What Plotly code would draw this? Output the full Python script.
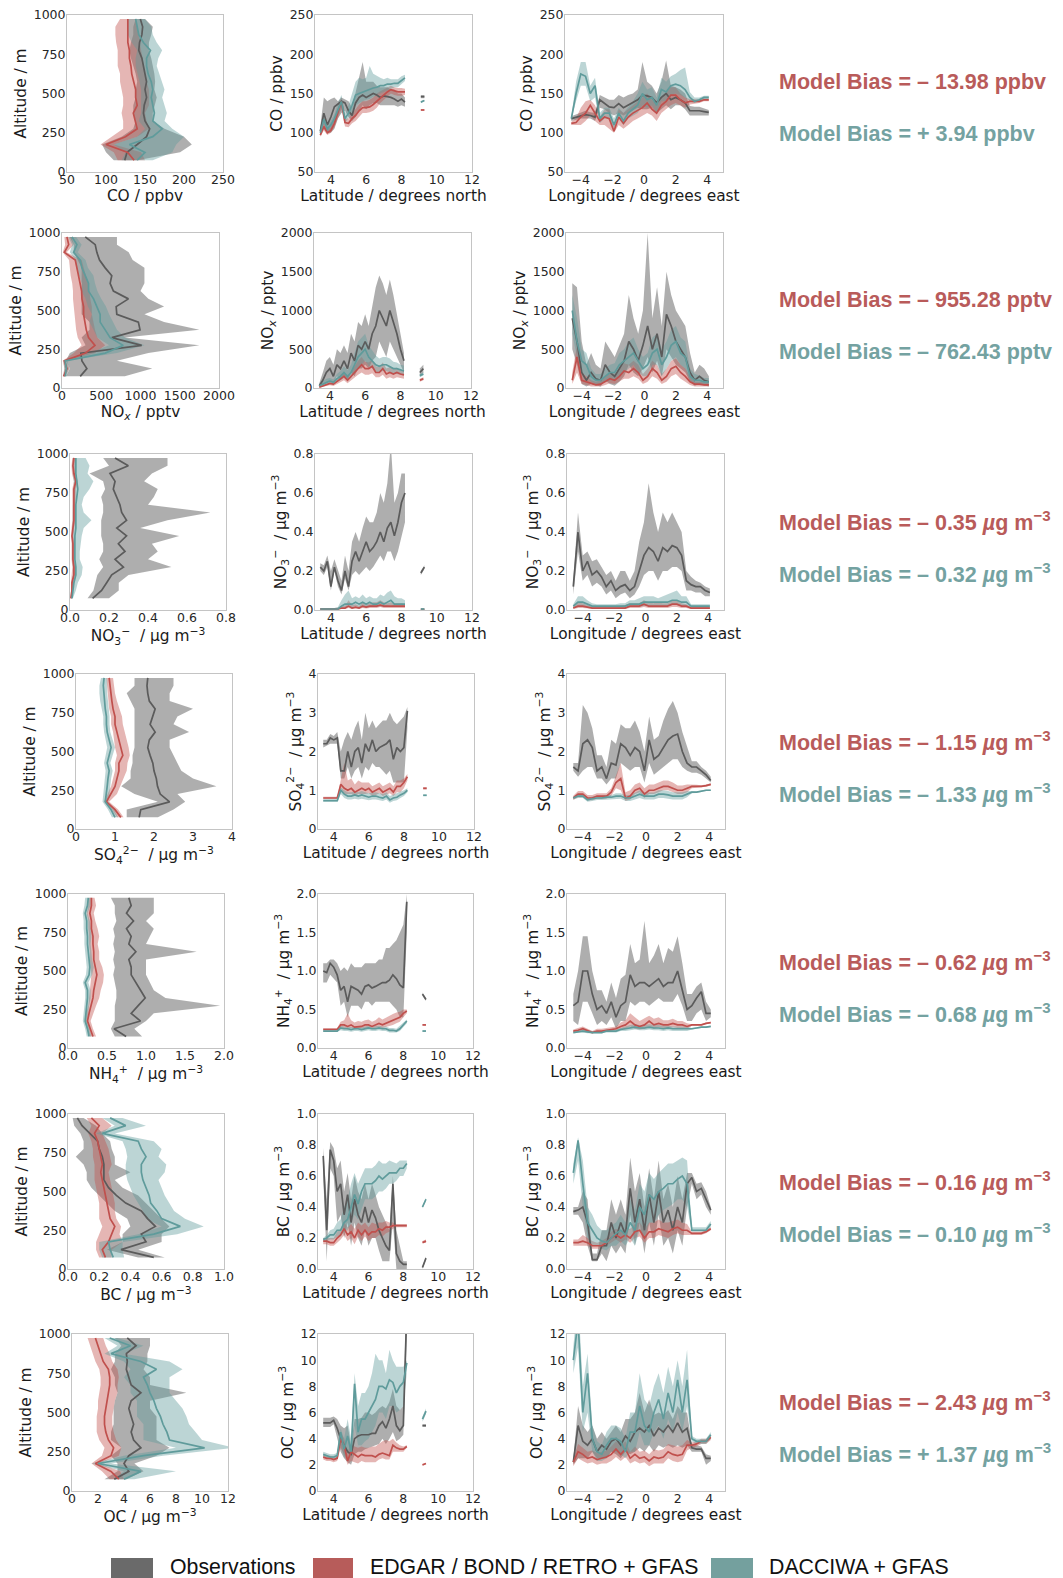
import plotly.graph_objects as go

# ---------------------------------------------------------------- coordinates
ALT = [75, 125, 175, 225, 275, 325, 375, 425, 475, 525, 575, 625, 675, 725, 775, 825, 875, 925, 975]
LAT = [3.4, 3.6, 3.8, 4.0, 4.2, 4.4, 4.6, 4.8, 5.0, 5.2, 5.4, 5.6, 5.8, 6.0, 6.2, 6.4, 6.6, 6.8, 7.0,
       7.2, 7.4, 7.6, 7.8, 8.0, 8.2, 9.1, 9.3]
LON = [-4.6, -4.3, -4.0, -3.7, -3.4, -3.1, -2.8, -2.5, -2.2, -1.9, -1.6, -1.3, -1.0, -0.7, -0.4, -0.1,
       0.2, 0.5, 0.8, 1.1, 1.4, 1.7, 2.0, 2.3, 2.6, 2.9, 3.2, 3.5, 3.8, 4.1]

# each series: [mean, lower edge, upper edge]
# ---------------------------------------------------------------- CO (ppbv)
co_alt_obs = [[124, 127, 140, 152, 156, 150, 148, 149, 152, 150, 152, 150, 148, 146, 142, 143, 146, 147, 144],
              [110, 100, 95, 120, 135, 138, 135, 135, 138, 138, 140, 138, 135, 132, 130, 132, 135, 135, 138],
              [140, 195, 210, 200, 175, 160, 160, 162, 165, 162, 163, 162, 160, 158, 155, 155, 158, 160, 150]]
co_alt_edg = [[136, 128, 100, 125, 140, 137, 135, 140, 138, 138, 135, 133, 132, 130, 130, 128, 128, 128, 128],
              [115, 110, 93, 108, 122, 122, 120, 122, 122, 120, 118, 118, 115, 115, 115, 113, 112, 112, 118],
              [150, 145, 110, 140, 155, 152, 150, 155, 155, 155, 152, 150, 148, 147, 145, 143, 142, 140, 138]]
co_alt_dac = [[140, 150, 130, 160, 172, 160, 162, 160, 158, 160, 158, 154, 152, 152, 157, 148, 142, 140, 138],
              [120, 125, 110, 140, 150, 142, 145, 145, 145, 145, 143, 140, 138, 138, 140, 133, 128, 128, 128],
              [160, 185, 190, 200, 185, 175, 178, 175, 172, 175, 172, 168, 165, 167, 172, 165, 160, 158, 150]]
co_lat_obs = [[102, 125, 110, 120, 133, 136, 140, 138, 128, 122, 138, 145, 148, 145, 148, 150, 148, 145, 147, 146, 145, 143, 140, 143, 139, 146, 146],
              [98, 105, 100, 100, 105, 118, 125, 128, 120, 115, 120, 128, 135, 130, 135, 138, 138, 135, 135, 135, 135, 135, 133, 135, 133, 144, 144],
              [108, 145, 140, 143, 145, 140, 145, 142, 140, 132, 150, 170, 190, 165, 165, 165, 160, 158, 158, 158, 155, 155, 150, 150, 145, 148, 148]]
co_lat_edg = [[97, 108, 100, 103, 112, 125, 140, 113, 112, 118, 122, 128, 132, 132, 133, 136, 140, 145, 148, 152, 155, 153, 152, 152, 152, 129, 129],
              [95, 103, 97, 100, 107, 118, 130, 108, 107, 112, 115, 120, 125, 125, 126, 128, 132, 138, 142, 146, 150, 148, 147, 147, 148, 128, 128],
              [100, 113, 104, 107, 118, 132, 145, 118, 118, 125, 130, 136, 140, 140, 142, 145, 150, 153, 155, 158, 160, 158, 157, 157, 156, 130, 130]]
co_lat_dac = [[100, 117, 105, 110, 118, 130, 140, 118, 125, 135, 148, 150, 152, 154, 155, 157, 158, 160, 160, 162, 162, 163, 163, 167, 170, 139, 141],
              [97, 112, 100, 105, 112, 122, 132, 112, 118, 125, 135, 138, 140, 142, 143, 146, 148, 150, 152, 155, 156, 158, 158, 162, 166, 138, 140],
              [104, 122, 110, 115, 124, 138, 148, 125, 135, 150, 165, 170, 168, 170, 185, 175, 172, 170, 168, 170, 168, 168, 168, 172, 174, 140, 142]]
co_lon_obs = [[118, 120, 122, 123, 122, 120, 142, 138, 133, 132, 137, 132, 135, 138, 142, 148, 147, 145, 138, 145, 150, 142, 145, 142, 138, 128, 128, 128, 127, 126],
              [115, 117, 118, 118, 118, 115, 132, 130, 125, 122, 125, 122, 125, 128, 132, 130, 130, 132, 125, 130, 135, 130, 135, 135, 130, 122, 122, 122, 122, 122],
              [121, 123, 126, 128, 126, 125, 148, 145, 142, 142, 148, 145, 148, 150, 155, 190, 165, 160, 150, 165, 192, 160, 158, 155, 150, 134, 133, 133, 131, 129]]
co_lon_edg = [[112, 113, 120, 125, 135, 125, 115, 120, 118, 102, 120, 112, 120, 125, 128, 132, 138, 130, 125, 135, 140, 148, 148, 142, 138, 140, 140, 140, 142, 142],
              [110, 110, 110, 115, 122, 115, 110, 110, 105, 100, 110, 105, 110, 115, 118, 122, 125, 122, 115, 125, 130, 135, 138, 135, 132, 136, 137, 138, 140, 140],
              [114, 118, 132, 140, 142, 135, 120, 130, 130, 110, 130, 125, 130, 135, 140, 145, 150, 142, 135, 145, 152, 158, 158, 150, 145, 143, 143, 142, 144, 144]]
co_lon_dac = [[118, 150, 175, 172, 150, 160, 118, 125, 125, 110, 125, 115, 125, 130, 135, 150, 142, 145, 135, 155, 152, 160, 162, 160, 155, 145, 140, 142, 145, 145],
              [116, 140, 160, 160, 140, 145, 112, 118, 118, 105, 118, 110, 118, 122, 125, 135, 132, 135, 125, 140, 140, 148, 150, 148, 145, 140, 138, 140, 142, 143],
              [120, 165, 190, 190, 160, 170, 125, 132, 132, 118, 132, 125, 132, 140, 150, 165, 155, 158, 145, 170, 165, 172, 175, 180, 183, 152, 145, 145, 147, 147]]

# ---------------------------------------------------------------- NOx (pptv)
nox_alt_obs = [[232, 317, 254, 240, 1015, 634, 994, 973, 698, 690, 846, 655, 613, 634, 550, 478, 444, 423, 296],
               [50, 100, 50, 100, 300, 250, 350, 350, 250, 250, 250, 250, 250, 250, 250, 200, 150, 150, 100],
               [800, 1150, 700, 1100, 1750, 800, 1750, 1300, 1050, 1300, 1100, 1000, 1050, 1050, 1050, 900, 850, 700, 700]]
nox_alt_edg = [[21, 63, 30, 300, 420, 338, 309, 296, 275, 275, 254, 250, 233, 211, 190, 169, 30, 85, 63],
               [10, 30, 10, 150, 250, 200, 180, 170, 160, 150, 140, 140, 130, 110, 100, 90, 10, 40, 30],
               [40, 100, 50, 420, 550, 450, 420, 400, 380, 380, 360, 350, 330, 300, 280, 250, 60, 150, 120]]
nox_alt_dac = [[40, 55, 40, 550, 780, 613, 550, 486, 486, 444, 402, 338, 338, 296, 254, 232, 148, 190, 127],
               [20, 30, 20, 350, 600, 450, 400, 350, 380, 330, 300, 250, 250, 220, 180, 170, 100, 130, 80],
               [60, 90, 70, 700, 1050, 800, 700, 650, 600, 560, 500, 450, 420, 400, 330, 300, 200, 250, 180]]
nox_lat_obs = [[30, 100, 200, 250, 150, 300, 250, 350, 250, 450, 350, 550, 500, 600, 500, 700, 800, 1000, 900, 800, 1000, 850, 700, 500, 350, 200, 250],
               [10, 40, 80, 100, 50, 150, 100, 150, 100, 200, 150, 250, 250, 300, 250, 350, 400, 600, 500, 400, 600, 500, 400, 300, 200, 150, 200],
               [60, 200, 350, 400, 300, 500, 450, 550, 450, 700, 600, 850, 800, 950, 800, 1050, 1300, 1450, 1350, 1200, 1400, 1200, 1000, 700, 450, 250, 300]]
nox_lat_edg = [[10, 30, 50, 60, 50, 80, 120, 150, 100, 150, 200, 250, 300, 250, 250, 280, 200, 200, 250, 180, 200, 180, 200, 180, 170, 100, 120],
               [5, 15, 30, 35, 25, 50, 80, 100, 60, 100, 130, 170, 200, 170, 170, 190, 140, 140, 170, 120, 140, 120, 140, 130, 120, 80, 100],
               [20, 50, 80, 90, 80, 120, 170, 200, 150, 220, 280, 350, 400, 340, 330, 360, 280, 270, 330, 250, 270, 250, 260, 230, 220, 120, 140]]
nox_lat_dac = [[30, 50, 80, 90, 70, 120, 150, 200, 150, 200, 300, 400, 450, 500, 400, 350, 300, 280, 300, 300, 280, 250, 250, 230, 220, 160, 180],
               [15, 30, 50, 60, 40, 80, 100, 130, 100, 130, 200, 250, 300, 350, 280, 250, 200, 200, 220, 220, 200, 180, 180, 170, 160, 140, 160],
               [50, 80, 120, 130, 110, 180, 220, 280, 230, 300, 450, 600, 650, 700, 550, 480, 420, 380, 400, 400, 380, 340, 330, 300, 290, 180, 200]]
nox_lon_obs = [[900, 600, 200, 100, 200, 120, 100, 300, 200, 150, 250, 350, 600, 500, 350, 550, 800, 500, 700, 400, 950, 800, 600, 500, 400, 200, 100, 150, 100, 80],
               [500, 300, 50, 20, 50, 30, 20, 100, 50, 30, 80, 150, 300, 200, 150, 250, 400, 200, 350, 150, 500, 400, 300, 250, 200, 80, 30, 50, 30, 20],
               [1350, 1300, 600, 300, 450, 300, 250, 600, 500, 400, 550, 700, 1200, 900, 700, 1000, 2000, 900, 1300, 800, 1500, 1200, 1000, 900, 800, 450, 200, 300, 250, 150]]
nox_lon_edg = [[100, 400, 100, 80, 50, 40, 50, 80, 120, 100, 150, 220, 200, 250, 200, 100, 150, 250, 200, 100, 150, 250, 280, 200, 150, 80, 50, 50, 40, 40],
               [50, 200, 50, 40, 20, 20, 20, 40, 60, 50, 80, 120, 120, 150, 120, 50, 80, 150, 120, 50, 80, 150, 180, 120, 80, 40, 20, 20, 20, 20],
               [200, 550, 200, 150, 100, 80, 100, 150, 200, 180, 250, 320, 300, 350, 300, 180, 250, 350, 300, 180, 250, 350, 380, 300, 250, 150, 80, 80, 70, 70]]
nox_lon_dac = [[1000, 600, 350, 300, 150, 100, 100, 150, 200, 200, 300, 350, 400, 450, 350, 250, 300, 450, 500, 300, 400, 550, 600, 450, 400, 150, 100, 100, 80, 80],
               [700, 400, 200, 150, 80, 50, 50, 80, 100, 100, 150, 200, 250, 300, 200, 150, 150, 300, 300, 150, 250, 350, 400, 300, 250, 80, 50, 50, 40, 40],
               [1200, 900, 500, 450, 250, 180, 180, 250, 300, 320, 450, 500, 600, 650, 500, 400, 450, 650, 700, 500, 600, 750, 800, 650, 600, 250, 180, 160, 130, 130]]

# ---------------------------------------------------------------- NO3- (ug m-3)
no3_alt_obs = [[0.116, 0.162, 0.188, 0.214, 0.274, 0.231, 0.282, 0.248, 0.29, 0.24, 0.29, 0.265, 0.256, 0.239, 0.222, 0.231, 0.205, 0.299, 0.231],
               [0.09, 0.12, 0.13, 0.14, 0.17, 0.15, 0.17, 0.17, 0.16, 0.16, 0.16, 0.17, 0.17, 0.16, 0.18, 0.17, 0.1, 0.2, 0.17],
               [0.2, 0.25, 0.25, 0.3, 0.52, 0.4, 0.45, 0.42, 0.56, 0.36, 0.5, 0.72, 0.4, 0.43, 0.45, 0.38, 0.42, 0.5, 0.5]]
no3_alt_edg = [[0.005, 0.01, 0.01, 0.02, 0.02, 0.015, 0.015, 0.015, 0.01, 0.015, 0.02, 0.02, 0.02, 0.02, 0.02, 0.03, 0.02, 0.015, 0.02],
               [0.0, 0.005, 0.005, 0.01, 0.012, 0.008, 0.008, 0.008, 0.005, 0.008, 0.012, 0.012, 0.012, 0.012, 0.012, 0.02, 0.01, 0.008, 0.012],
               [0.01, 0.015, 0.018, 0.03, 0.03, 0.022, 0.022, 0.022, 0.018, 0.022, 0.028, 0.028, 0.028, 0.028, 0.03, 0.04, 0.03, 0.025, 0.03]]
no3_alt_dac = [[0.01, 0.015, 0.02, 0.03, 0.03, 0.025, 0.025, 0.025, 0.025, 0.03, 0.03, 0.03, 0.03, 0.035, 0.04, 0.035, 0.03, 0.03, 0.03],
               [0.005, 0.005, 0.01, 0.015, 0.015, 0.012, 0.012, 0.012, 0.012, 0.015, 0.015, 0.015, 0.015, 0.02, 0.02, 0.02, 0.015, 0.015, 0.015],
               [0.015, 0.03, 0.04, 0.06, 0.065, 0.05, 0.05, 0.055, 0.06, 0.07, 0.11, 0.07, 0.06, 0.07, 0.1, 0.12, 0.09, 0.1, 0.08]]
no3_lat_obs = [[0.22, 0.2, 0.25, 0.12, 0.22, 0.15, 0.1, 0.2, 0.12, 0.25, 0.3, 0.25, 0.3, 0.35, 0.3, 0.32, 0.35, 0.4, 0.35, 0.42, 0.45, 0.38, 0.45, 0.55, 0.6, 0.19, 0.22],
               [0.2, 0.18, 0.22, 0.1, 0.2, 0.12, 0.08, 0.16, 0.1, 0.18, 0.2, 0.18, 0.2, 0.22, 0.2, 0.22, 0.25, 0.28, 0.25, 0.3, 0.3, 0.25, 0.3, 0.38, 0.45, 0.18, 0.21],
               [0.24, 0.23, 0.28, 0.2, 0.26, 0.2, 0.15, 0.28, 0.2, 0.35, 0.4, 0.35, 0.42, 0.48, 0.45, 0.45, 0.5, 0.6, 0.55, 0.65, 0.85, 0.55, 0.6, 0.7, 0.7, 0.2, 0.23]]
no3_lat_edg = [[0.005, 0.005, 0.005, 0.005, 0.005, 0.005, 0.01, 0.01, 0.02, 0.01, 0.015, 0.01, 0.02, 0.015, 0.02, 0.02, 0.02, 0.025, 0.02, 0.02, 0.02, 0.02, 0.02, 0.02, 0.02, 0.003, 0.003],
               [0.0, 0.0, 0.0, 0.0, 0.0, 0.0, 0.005, 0.005, 0.01, 0.005, 0.008, 0.005, 0.01, 0.008, 0.01, 0.01, 0.01, 0.015, 0.01, 0.01, 0.01, 0.01, 0.01, 0.01, 0.01, 0.0, 0.0],
               [0.01, 0.01, 0.01, 0.01, 0.01, 0.012, 0.02, 0.02, 0.05, 0.025, 0.03, 0.02, 0.04, 0.03, 0.035, 0.04, 0.04, 0.05, 0.04, 0.035, 0.04, 0.035, 0.035, 0.035, 0.03, 0.005, 0.005]]
no3_lat_dac = [[0.005, 0.005, 0.005, 0.005, 0.005, 0.005, 0.02, 0.03, 0.03, 0.03, 0.04, 0.03, 0.04, 0.03, 0.04, 0.03, 0.03, 0.04, 0.03, 0.04, 0.05, 0.03, 0.03, 0.03, 0.03, 0.005, 0.005],
               [0.0, 0.0, 0.0, 0.0, 0.0, 0.0, 0.01, 0.015, 0.015, 0.015, 0.02, 0.015, 0.02, 0.015, 0.02, 0.015, 0.015, 0.02, 0.015, 0.02, 0.025, 0.015, 0.015, 0.015, 0.015, 0.0, 0.0],
               [0.01, 0.01, 0.01, 0.01, 0.01, 0.015, 0.05, 0.08, 0.1, 0.06, 0.07, 0.06, 0.08, 0.06, 0.07, 0.06, 0.06, 0.08, 0.07, 0.09, 0.1, 0.07, 0.06, 0.06, 0.05, 0.01, 0.01]]
no3_lon_obs = [[0.12, 0.4, 0.2, 0.25, 0.18, 0.2, 0.17, 0.12, 0.15, 0.1, 0.12, 0.13, 0.1, 0.12, 0.2, 0.28, 0.32, 0.3, 0.25, 0.32, 0.3, 0.33, 0.32, 0.28, 0.15, 0.13, 0.12, 0.12, 0.1, 0.09],
               [0.08, 0.3, 0.15, 0.18, 0.12, 0.14, 0.12, 0.08, 0.1, 0.06, 0.08, 0.09, 0.06, 0.08, 0.12, 0.18, 0.2, 0.2, 0.15, 0.2, 0.2, 0.22, 0.22, 0.2, 0.1, 0.1, 0.09, 0.09, 0.07, 0.07],
               [0.15, 0.5, 0.28, 0.3, 0.25, 0.26, 0.22, 0.18, 0.2, 0.15, 0.2, 0.2, 0.15, 0.2, 0.35, 0.45, 0.65, 0.5, 0.4, 0.5, 0.45, 0.5, 0.45, 0.4, 0.2, 0.17, 0.15, 0.14, 0.12, 0.11]]
no3_lon_edg = [[0.01, 0.02, 0.02, 0.015, 0.01, 0.01, 0.01, 0.01, 0.01, 0.01, 0.01, 0.01, 0.02, 0.02, 0.02, 0.03, 0.02, 0.02, 0.02, 0.02, 0.02, 0.03, 0.03, 0.02, 0.02, 0.01, 0.01, 0.01, 0.01, 0.01],
               [0.005, 0.01, 0.01, 0.008, 0.005, 0.005, 0.005, 0.005, 0.005, 0.005, 0.005, 0.005, 0.01, 0.01, 0.01, 0.015, 0.01, 0.01, 0.01, 0.01, 0.01, 0.015, 0.015, 0.01, 0.01, 0.005, 0.005, 0.005, 0.005, 0.005],
               [0.02, 0.04, 0.035, 0.025, 0.02, 0.02, 0.02, 0.02, 0.02, 0.02, 0.02, 0.025, 0.035, 0.035, 0.035, 0.05, 0.04, 0.035, 0.04, 0.035, 0.035, 0.05, 0.05, 0.035, 0.03, 0.015, 0.015, 0.015, 0.015, 0.015]]
no3_lon_dac = [[0.02, 0.04, 0.04, 0.03, 0.02, 0.02, 0.02, 0.02, 0.02, 0.02, 0.02, 0.02, 0.03, 0.03, 0.03, 0.04, 0.04, 0.04, 0.04, 0.04, 0.04, 0.05, 0.05, 0.04, 0.04, 0.02, 0.02, 0.02, 0.02, 0.02],
               [0.01, 0.02, 0.02, 0.015, 0.01, 0.01, 0.01, 0.01, 0.01, 0.01, 0.01, 0.01, 0.015, 0.015, 0.015, 0.02, 0.02, 0.02, 0.02, 0.02, 0.02, 0.025, 0.025, 0.02, 0.02, 0.01, 0.01, 0.01, 0.01, 0.01],
               [0.03, 0.07, 0.07, 0.05, 0.035, 0.03, 0.03, 0.03, 0.03, 0.03, 0.035, 0.035, 0.05, 0.05, 0.06, 0.07, 0.07, 0.07, 0.06, 0.07, 0.08, 0.09, 0.1, 0.07, 0.07, 0.03, 0.03, 0.03, 0.03, 0.03]]

# ---------------------------------------------------------------- SO4 2- (ug m-3)
so4_alt_obs = [[1.62, 1.66, 2.4, 2.16, 2.09, 2.06, 2.0, 1.97, 1.9, 1.84, 1.88, 2.03, 1.9, 1.97, 2.03, 1.88, 1.84, 1.82, 1.84],
               [1.3, 1.3, 2.1, 1.5, 1.16, 1.4, 1.4, 1.45, 1.45, 1.5, 1.5, 1.5, 1.5, 1.5, 1.5, 1.4, 1.3, 1.5, 1.5],
               [2.1, 2.5, 2.8, 2.6, 3.6, 3.0, 2.7, 2.6, 2.5, 2.4, 2.4, 2.9, 2.5, 2.6, 3.0, 2.4, 2.4, 2.5, 2.5]]
so4_alt_edg = [[1.15, 1.0, 0.78, 0.9, 1.0, 1.05, 1.1, 1.1, 1.2, 1.15, 1.1, 1.05, 1.0, 1.0, 0.95, 0.92, 0.9, 0.88, 0.85],
               [1.05, 0.92, 0.72, 0.8, 0.9, 0.95, 1.0, 1.0, 1.05, 1.0, 0.98, 0.95, 0.9, 0.9, 0.85, 0.83, 0.82, 0.8, 0.78],
               [1.22, 1.08, 0.85, 1.05, 1.15, 1.22, 1.3, 1.32, 1.38, 1.35, 1.3, 1.25, 1.2, 1.18, 1.12, 1.05, 1.0, 0.98, 0.95]]
so4_alt_dac = [[1.0, 0.9, 0.75, 0.78, 0.8, 0.82, 0.85, 0.8, 0.85, 0.9, 0.85, 0.8, 0.78, 0.78, 0.75, 0.73, 0.72, 0.7, 0.72],
               [0.92, 0.82, 0.68, 0.7, 0.72, 0.74, 0.76, 0.72, 0.76, 0.8, 0.76, 0.72, 0.7, 0.7, 0.66, 0.62, 0.6, 0.6, 0.64],
               [1.08, 0.98, 0.82, 0.86, 0.88, 0.9, 0.94, 0.88, 0.94, 1.0, 0.94, 0.88, 0.86, 0.86, 0.84, 0.82, 0.8, 0.8, 0.8]]
so4_lat_obs = [[2.2, 2.2, 2.35, 2.3, 2.35, 1.5, 1.5, 2.0, 1.6, 2.0, 2.1, 1.7, 2.2, 2.0, 2.3, 2.0, 2.1, 2.15, 2.2, 2.3, 1.8, 2.1, 2.0, 2.1, 3.05, None, None],
               [2.1, 2.15, 2.2, 2.2, 2.2, 1.3, 1.3, 1.6, 1.3, 1.5, 1.6, 1.3, 1.6, 1.5, 1.7, 1.6, 1.6, 1.5, 1.4, 1.5, 1.2, 1.2, 1.2, 1.2, 2.6, None, None],
               [2.3, 2.3, 2.45, 2.4, 2.5, 2.0, 2.3, 2.5, 2.3, 2.6, 2.8, 2.3, 3.0, 2.6, 2.8, 2.6, 2.7, 2.8, 2.8, 3.0, 2.8, 2.7, 2.8, 2.9, 3.15, None, None]]
so4_lat_edg = [[0.8, 0.8, 0.8, 0.8, 0.8, 1.15, 1.05, 1.0, 1.05, 0.95, 1.0, 1.05, 1.0, 1.05, 0.95, 1.0, 1.05, 0.95, 1.0, 1.05, 0.95, 1.1, 1.1, 1.2, 1.35, 1.05, 1.05],
               [0.78, 0.78, 0.78, 0.78, 0.78, 1.05, 0.9, 0.9, 0.9, 0.85, 0.9, 0.9, 0.9, 0.92, 0.85, 0.88, 0.92, 0.85, 0.88, 0.92, 0.85, 0.95, 0.95, 1.05, 1.25, 1.02, 1.02],
               [0.83, 0.83, 0.83, 0.83, 0.83, 1.25, 1.7, 1.25, 1.3, 1.15, 1.25, 1.2, 1.2, 1.2, 1.1, 1.15, 1.2, 1.1, 1.15, 1.2, 1.1, 1.25, 1.25, 1.3, 1.42, 1.08, 1.08]]
so4_lat_dac = [[0.73, 0.73, 0.73, 0.73, 0.73, 1.0, 0.9, 0.85, 0.85, 0.88, 0.85, 0.88, 0.85, 0.82, 0.85, 0.85, 0.82, 0.8, 0.85, 0.75, 0.8, 0.82, 0.88, 0.92, 1.0, 0.87, 0.87],
               [0.7, 0.7, 0.7, 0.7, 0.7, 0.9, 0.8, 0.76, 0.76, 0.78, 0.76, 0.78, 0.76, 0.74, 0.76, 0.76, 0.74, 0.72, 0.76, 0.68, 0.72, 0.74, 0.8, 0.85, 0.95, 0.85, 0.85],
               [0.76, 0.76, 0.76, 0.76, 0.76, 1.08, 1.0, 0.95, 0.95, 0.98, 0.95, 0.98, 0.95, 0.92, 0.95, 0.95, 0.92, 0.9, 0.95, 0.85, 0.9, 0.92, 0.96, 1.0, 1.05, 0.89, 0.89]]
so4_lon_obs = [[1.6, 1.5, 2.2, 2.3, 2.1, 1.5, 1.6, 1.3, 1.7, 1.65, 2.2, 2.1, 1.9, 2.1, 2.0, 1.5, 2.3, 1.8, 1.9, 2.1, 2.3, 2.4, 2.45, 2.0, 1.7, 1.6, 1.6, 1.5, 1.4, 1.25],
               [1.5, 1.35, 1.5, 1.6, 1.6, 1.3, 1.3, 1.15, 1.3, 1.3, 1.7, 1.6, 1.5, 1.6, 1.6, 1.2, 1.7, 1.4, 1.5, 1.6, 1.7, 1.8, 1.8, 1.6, 1.5, 1.45, 1.45, 1.4, 1.3, 1.2],
               [1.7, 1.7, 3.2, 3.0, 2.6, 1.9, 1.9, 1.6, 2.3, 2.2, 2.7, 2.6, 2.6, 2.8, 2.5, 2.0, 2.9, 2.3, 2.4, 2.8, 3.1, 3.3, 3.0, 2.5, 2.1, 1.75, 1.75, 1.6, 1.5, 1.35]]
so4_lon_edg = [[0.8, 0.9, 0.9, 0.8, 0.8, 0.85, 0.85, 0.85, 0.95, 1.2, 1.3, 0.8, 0.85, 1.0, 1.05, 0.9, 1.0, 1.0, 1.05, 1.1, 1.1, 1.05, 1.0, 1.0, 1.05, 1.1, 1.1, 1.1, 1.12, 1.15],
               [0.75, 0.82, 0.82, 0.74, 0.74, 0.78, 0.78, 0.78, 0.86, 1.05, 1.0, 0.72, 0.76, 0.9, 0.95, 0.8, 0.9, 0.9, 0.95, 1.0, 1.0, 0.95, 0.9, 0.9, 0.95, 1.05, 1.06, 1.07, 1.09, 1.12],
               [0.86, 0.98, 0.98, 0.88, 0.88, 0.92, 0.92, 0.92, 1.05, 1.35, 1.7, 0.95, 1.0, 1.15, 1.2, 1.05, 1.15, 1.15, 1.2, 1.25, 1.25, 1.2, 1.12, 1.12, 1.15, 1.14, 1.14, 1.13, 1.15, 1.18]]
so4_lon_dac = [[0.8, 0.85, 0.85, 0.75, 0.78, 0.8, 0.8, 0.82, 0.82, 0.85, 0.85, 0.8, 0.8, 0.85, 0.9, 0.85, 0.85, 0.85, 0.9, 0.9, 0.88, 0.85, 0.85, 0.85, 0.9, 0.95, 0.95, 0.97, 1.0, 1.0],
               [0.76, 0.8, 0.8, 0.7, 0.72, 0.75, 0.75, 0.76, 0.76, 0.78, 0.78, 0.72, 0.72, 0.76, 0.8, 0.76, 0.76, 0.76, 0.8, 0.8, 0.78, 0.76, 0.76, 0.76, 0.82, 0.92, 0.93, 0.95, 0.98, 0.98],
               [0.84, 0.9, 0.9, 0.8, 0.84, 0.86, 0.86, 0.88, 0.88, 0.92, 0.92, 0.88, 0.88, 0.94, 1.0, 0.94, 0.94, 0.94, 1.0, 1.0, 0.98, 0.95, 0.95, 0.95, 0.98, 0.98, 0.97, 0.99, 1.02, 1.02]]

# ---------------------------------------------------------------- NH4+ (ug m-3)
nh4_alt_obs = [[0.745, 0.59, 0.93, 0.81, 0.9, 0.99, 0.93, 0.87, 0.81, 0.81, 0.78, 0.87, 0.78, 0.81, 0.75, 0.84, 0.75, 0.81, 0.78],
               [0.6, 0.55, 0.6, 0.6, 0.6, 0.62, 0.62, 0.6, 0.58, 0.6, 0.58, 0.6, 0.58, 0.6, 0.58, 0.62, 0.6, 0.6, 0.55],
               [0.95, 0.85, 1.0, 1.1, 1.95, 1.25, 1.1, 1.05, 1.0, 1.0, 1.0, 1.65, 1.0, 1.05, 1.1, 1.0, 1.1, 1.1, 1.1]]
nh4_alt_edg = [[0.32, 0.28, 0.25, 0.27, 0.3, 0.32, 0.33, 0.35, 0.37, 0.35, 0.33, 0.33, 0.32, 0.32, 0.3, 0.3, 0.28, 0.3, 0.3],
               [0.28, 0.24, 0.22, 0.23, 0.26, 0.27, 0.28, 0.29, 0.3, 0.29, 0.28, 0.28, 0.27, 0.27, 0.26, 0.26, 0.24, 0.26, 0.26],
               [0.36, 0.32, 0.29, 0.32, 0.36, 0.4, 0.42, 0.45, 0.46, 0.44, 0.4, 0.4, 0.38, 0.4, 0.38, 0.35, 0.33, 0.36, 0.34]]
nh4_alt_dac = [[0.27, 0.25, 0.22, 0.23, 0.24, 0.25, 0.25, 0.22, 0.27, 0.28, 0.27, 0.26, 0.25, 0.25, 0.24, 0.24, 0.22, 0.25, 0.26],
               [0.24, 0.22, 0.19, 0.2, 0.21, 0.22, 0.22, 0.19, 0.23, 0.24, 0.23, 0.22, 0.21, 0.21, 0.2, 0.2, 0.19, 0.21, 0.22],
               [0.3, 0.28, 0.25, 0.26, 0.27, 0.29, 0.29, 0.26, 0.31, 0.33, 0.31, 0.3, 0.29, 0.3, 0.29, 0.28, 0.25, 0.29, 0.29]]
nh4_lat_obs = [[1.0, 0.98, 1.1, 1.05, 0.95, 0.75, 0.8, 0.6, 0.8, 0.78, 0.75, 0.7, 0.8, 0.82, 0.78, 0.8, 0.83, 0.85, 0.85, 0.88, 0.95, 0.9, 0.82, 0.78, 1.9, 0.7, 0.63],
               [0.85, 0.85, 0.95, 0.9, 0.85, 0.55, 0.6, 0.4, 0.55, 0.55, 0.55, 0.5, 0.6, 0.6, 0.55, 0.6, 0.6, 0.6, 0.6, 0.6, 0.55, 0.5, 0.4, 0.4, 1.5, 0.68, 0.61],
               [1.1, 1.1, 1.15, 1.15, 1.1, 1.0, 1.05, 1.0, 1.1, 1.05, 1.05, 1.05, 1.1, 1.1, 1.1, 1.1, 1.15, 1.15, 1.3, 1.3, 1.35, 1.4, 1.5, 1.6, 2.0, 0.72, 0.65]]
nh4_lat_edg = [[0.24, 0.24, 0.24, 0.24, 0.24, 0.3, 0.3, 0.28, 0.3, 0.27, 0.28, 0.28, 0.3, 0.3, 0.28, 0.3, 0.32, 0.3, 0.32, 0.33, 0.35, 0.38, 0.4, 0.45, 0.48, 0.3, 0.3],
               [0.23, 0.23, 0.23, 0.23, 0.23, 0.27, 0.26, 0.24, 0.26, 0.24, 0.25, 0.25, 0.26, 0.26, 0.25, 0.26, 0.27, 0.26, 0.27, 0.28, 0.3, 0.32, 0.34, 0.4, 0.45, 0.29, 0.29],
               [0.26, 0.26, 0.26, 0.26, 0.26, 0.34, 0.36, 0.45, 0.36, 0.33, 0.35, 0.34, 0.36, 0.37, 0.34, 0.36, 0.4, 0.37, 0.4, 0.42, 0.44, 0.46, 0.47, 0.5, 0.5, 0.31, 0.31]]
nh4_lat_dac = [[0.22, 0.22, 0.22, 0.22, 0.22, 0.26, 0.25, 0.25, 0.24, 0.25, 0.25, 0.24, 0.25, 0.26, 0.25, 0.25, 0.26, 0.25, 0.25, 0.23, 0.23, 0.22, 0.25, 0.3, 0.35, 0.22, 0.22],
               [0.21, 0.21, 0.21, 0.21, 0.21, 0.23, 0.22, 0.22, 0.21, 0.22, 0.22, 0.21, 0.22, 0.23, 0.22, 0.22, 0.23, 0.22, 0.22, 0.2, 0.2, 0.2, 0.22, 0.27, 0.32, 0.21, 0.21],
               [0.23, 0.23, 0.23, 0.23, 0.23, 0.29, 0.28, 0.28, 0.27, 0.28, 0.28, 0.27, 0.28, 0.29, 0.28, 0.28, 0.29, 0.28, 0.28, 0.26, 0.26, 0.25, 0.28, 0.33, 0.37, 0.23, 0.23]]
nh4_lon_obs = [[0.55, 0.6, 1.0, 1.0, 0.7, 0.5, 0.55, 0.45, 0.6, 0.4, 0.55, 0.6, 0.95, 0.8, 0.85, 0.85, 0.8, 0.85, 0.9, 0.8, 0.85, 0.85, 1.0, 0.75, 0.5, 0.55, 0.65, 0.73, 0.45, 0.45],
               [0.35, 0.3, 0.6, 0.6, 0.45, 0.3, 0.35, 0.3, 0.4, 0.25, 0.35, 0.35, 0.6, 0.55, 0.6, 0.6, 0.55, 0.6, 0.65, 0.6, 0.6, 0.6, 0.7, 0.55, 0.35, 0.35, 0.45, 0.5, 0.35, 0.4],
               [0.7, 1.0, 1.45, 1.45, 1.0, 0.75, 0.75, 0.6, 0.85, 0.65, 0.9, 0.95, 1.35, 1.1, 1.15, 1.65, 1.1, 1.2, 1.35, 1.1, 1.3, 1.25, 1.45, 1.1, 0.7, 0.7, 0.8, 0.85, 0.6, 0.5]]
nh4_lon_edg = [[0.22, 0.23, 0.25, 0.22, 0.2, 0.22, 0.22, 0.23, 0.24, 0.25, 0.28, 0.3, 0.35, 0.3, 0.28, 0.3, 0.35, 0.3, 0.32, 0.3, 0.3, 0.32, 0.3, 0.3, 0.28, 0.3, 0.3, 0.3, 0.32, 0.33],
               [0.2, 0.21, 0.22, 0.2, 0.19, 0.2, 0.2, 0.21, 0.22, 0.23, 0.24, 0.25, 0.28, 0.25, 0.24, 0.25, 0.28, 0.25, 0.27, 0.26, 0.26, 0.27, 0.26, 0.26, 0.25, 0.29, 0.29, 0.29, 0.31, 0.32],
               [0.24, 0.26, 0.28, 0.25, 0.22, 0.25, 0.25, 0.26, 0.27, 0.28, 0.33, 0.36, 0.45, 0.4, 0.35, 0.38, 0.42, 0.38, 0.4, 0.36, 0.36, 0.38, 0.35, 0.35, 0.32, 0.31, 0.31, 0.31, 0.33, 0.34]]
nh4_lon_dac = [[0.2, 0.21, 0.22, 0.21, 0.2, 0.2, 0.2, 0.22, 0.22, 0.22, 0.24, 0.25, 0.26, 0.27, 0.26, 0.26, 0.27, 0.26, 0.26, 0.25, 0.26, 0.25, 0.25, 0.25, 0.25, 0.25, 0.26, 0.27, 0.27, 0.28],
               [0.19, 0.2, 0.2, 0.19, 0.19, 0.19, 0.19, 0.2, 0.2, 0.2, 0.22, 0.22, 0.23, 0.24, 0.23, 0.23, 0.24, 0.23, 0.23, 0.22, 0.23, 0.22, 0.22, 0.22, 0.22, 0.24, 0.25, 0.26, 0.26, 0.27],
               [0.21, 0.22, 0.24, 0.23, 0.22, 0.22, 0.22, 0.24, 0.24, 0.24, 0.27, 0.28, 0.3, 0.31, 0.3, 0.3, 0.31, 0.3, 0.3, 0.29, 0.29, 0.28, 0.28, 0.28, 0.28, 0.26, 0.27, 0.28, 0.28, 0.29]]

# ---------------------------------------------------------------- BC (ug m-3)
bc_alt_obs = [[0.55, 0.34, 0.5, 0.47, 0.56, 0.51, 0.47, 0.37, 0.31, 0.26, 0.23, 0.23, 0.23, 0.22, 0.2, 0.19, 0.14, 0.09, 0.06],
              [0.45, 0.25, 0.35, 0.35, 0.4, 0.38, 0.3, 0.25, 0.2, 0.15, 0.12, 0.12, 0.1, 0.05, 0.1, 0.1, 0.08, 0.04, 0.03],
              [0.62, 0.45, 0.6, 0.6, 0.65, 0.6, 0.55, 0.5, 0.45, 0.35, 0.3, 0.4, 0.3, 0.3, 0.28, 0.27, 0.22, 0.18, 0.1]]
bc_alt_edg = [[0.24, 0.22, 0.26, 0.28, 0.3, 0.27, 0.26, 0.25, 0.24, 0.23, 0.22, 0.21, 0.22, 0.21, 0.2, 0.19, 0.17, 0.2, 0.15],
              [0.2, 0.18, 0.18, 0.2, 0.22, 0.2, 0.2, 0.2, 0.19, 0.18, 0.17, 0.17, 0.17, 0.16, 0.16, 0.15, 0.13, 0.15, 0.12],
              [0.28, 0.28, 0.35, 0.33, 0.34, 0.31, 0.3, 0.3, 0.29, 0.28, 0.27, 0.26, 0.28, 0.27, 0.26, 0.24, 0.22, 0.28, 0.22]]
bc_alt_dac = [[0.29, 0.27, 0.26, 0.55, 0.72, 0.6, 0.57, 0.53, 0.52, 0.5, 0.48, 0.47, 0.47, 0.5, 0.47, 0.45, 0.22, 0.37, 0.27],
              [0.22, 0.2, 0.2, 0.45, 0.6, 0.5, 0.48, 0.45, 0.42, 0.4, 0.38, 0.37, 0.37, 0.38, 0.37, 0.35, 0.18, 0.3, 0.22],
              [0.36, 0.35, 0.35, 0.7, 0.87, 0.75, 0.68, 0.65, 0.62, 0.6, 0.58, 0.62, 0.63, 0.58, 0.6, 0.55, 0.3, 0.5, 0.35]]
bc_lat_obs = [[0.73, 0.25, 0.77, 0.7, 0.5, 0.55, 0.35, 0.48, 0.3, 0.45, 0.35, 0.3, 0.4, 0.3, 0.38, 0.33, 0.25, 0.2, 0.15, 0.12, 0.55, 0.1, 0.05, 0.03, 0.03, 0.01, 0.07],
              [0.6, 0.05, 0.65, 0.6, 0.3, 0.35, 0.2, 0.3, 0.15, 0.3, 0.2, 0.15, 0.25, 0.15, 0.2, 0.2, 0.12, 0.05, 0.05, 0.05, 0.3, 0.0, 0.0, 0.0, 0.0, 0.0, 0.06],
              [0.78, 0.45, 0.82, 0.78, 0.65, 0.7, 0.5, 0.62, 0.45, 0.6, 0.5, 0.45, 0.55, 0.45, 0.55, 0.48, 0.4, 0.35, 0.3, 0.25, 0.6, 0.25, 0.15, 0.05, 0.05, 0.02, 0.08]]
bc_lat_edg = [[0.18, 0.18, 0.17, 0.17, 0.2, 0.22, 0.26, 0.22, 0.24, 0.2, 0.25, 0.22, 0.25, 0.22, 0.24, 0.24, 0.26, 0.25, 0.27, 0.27, 0.28, 0.28, 0.28, 0.28, 0.28, 0.17, 0.18],
              [0.16, 0.16, 0.15, 0.15, 0.17, 0.19, 0.22, 0.18, 0.2, 0.16, 0.21, 0.18, 0.21, 0.18, 0.2, 0.2, 0.22, 0.21, 0.23, 0.24, 0.26, 0.27, 0.27, 0.27, 0.27, 0.17, 0.17],
              [0.2, 0.2, 0.2, 0.2, 0.24, 0.26, 0.3, 0.27, 0.29, 0.26, 0.3, 0.28, 0.3, 0.27, 0.3, 0.29, 0.3, 0.3, 0.31, 0.3, 0.3, 0.29, 0.29, 0.29, 0.29, 0.18, 0.19]]
bc_lat_dac = [[0.19, 0.2, 0.22, 0.22, 0.25, 0.25, 0.3, 0.32, 0.4, 0.48, 0.42, 0.5, 0.55, 0.55, 0.55, 0.57, 0.6, 0.58, 0.6, 0.62, 0.62, 0.62, 0.65, 0.65, 0.68, 0.4, 0.45],
              [0.18, 0.18, 0.19, 0.19, 0.21, 0.21, 0.24, 0.25, 0.3, 0.35, 0.32, 0.38, 0.45, 0.45, 0.45, 0.47, 0.5, 0.5, 0.52, 0.55, 0.55, 0.57, 0.6, 0.6, 0.65, 0.39, 0.44],
              [0.2, 0.22, 0.25, 0.26, 0.3, 0.32, 0.4, 0.45, 0.55, 0.62, 0.55, 0.6, 0.65, 0.65, 0.65, 0.67, 0.7, 0.68, 0.68, 0.7, 0.69, 0.68, 0.7, 0.7, 0.7, 0.41, 0.46]]
bc_lon_obs = [[0.37, 0.38, 0.4, 0.3, 0.06, 0.06, 0.15, 0.15, 0.3, 0.2, 0.3, 0.22, 0.52, 0.3, 0.45, 0.25, 0.48, 0.3, 0.5, 0.3, 0.38, 0.25, 0.4, 0.3, 0.55, 0.59, 0.5, 0.52, 0.45, 0.38],
              [0.35, 0.35, 0.3, 0.15, 0.05, 0.05, 0.1, 0.05, 0.15, 0.1, 0.15, 0.1, 0.35, 0.15, 0.3, 0.1, 0.3, 0.15, 0.35, 0.15, 0.2, 0.1, 0.25, 0.15, 0.4, 0.55, 0.45, 0.48, 0.4, 0.35],
              [0.4, 0.4, 0.5, 0.45, 0.1, 0.1, 0.25, 0.25, 0.45, 0.35, 0.45, 0.35, 0.72, 0.5, 0.62, 0.4, 0.65, 0.45, 0.7, 0.45, 0.55, 0.4, 0.6, 0.45, 0.62, 0.62, 0.55, 0.56, 0.5, 0.4]]
bc_lon_edg = [[0.17, 0.17, 0.18, 0.17, 0.15, 0.15, 0.15, 0.17, 0.2, 0.22, 0.2, 0.22, 0.2, 0.24, 0.25, 0.2, 0.24, 0.24, 0.26, 0.25, 0.24, 0.26, 0.27, 0.25, 0.25, 0.23, 0.23, 0.23, 0.24, 0.26],
              [0.15, 0.15, 0.15, 0.15, 0.13, 0.13, 0.13, 0.15, 0.17, 0.19, 0.17, 0.19, 0.17, 0.2, 0.21, 0.17, 0.2, 0.2, 0.22, 0.21, 0.2, 0.22, 0.23, 0.22, 0.22, 0.22, 0.22, 0.22, 0.23, 0.25],
              [0.19, 0.19, 0.22, 0.2, 0.18, 0.17, 0.18, 0.2, 0.24, 0.26, 0.24, 0.26, 0.26, 0.29, 0.3, 0.26, 0.3, 0.3, 0.32, 0.3, 0.3, 0.31, 0.32, 0.3, 0.29, 0.24, 0.24, 0.24, 0.25, 0.27]]
bc_lon_dac = [[0.62, 0.83, 0.55, 0.3, 0.25, 0.2, 0.18, 0.17, 0.2, 0.23, 0.25, 0.22, 0.3, 0.25, 0.4, 0.35, 0.48, 0.45, 0.5, 0.52, 0.55, 0.55, 0.58, 0.6, 0.55, 0.25, 0.25, 0.25, 0.25, 0.29],
              [0.55, 0.7, 0.4, 0.2, 0.15, 0.15, 0.13, 0.12, 0.15, 0.15, 0.18, 0.15, 0.2, 0.15, 0.25, 0.2, 0.3, 0.3, 0.35, 0.38, 0.4, 0.42, 0.45, 0.45, 0.4, 0.24, 0.24, 0.24, 0.24, 0.27],
              [0.68, 0.85, 0.7, 0.4, 0.35, 0.28, 0.25, 0.25, 0.28, 0.3, 0.35, 0.3, 0.45, 0.38, 0.55, 0.5, 0.62, 0.58, 0.62, 0.65, 0.68, 0.68, 0.7, 0.72, 0.7, 0.27, 0.27, 0.27, 0.27, 0.31]]

# ---------------------------------------------------------------- OC (ug m-3)
oc_alt_obs = [[3.25, 4.37, 4.0, 4.37, 5.3, 4.74, 4.55, 4.74, 4.55, 4.37, 4.55, 5.3, 4.55, 4.37, 4.18, 4.25, 4.18, 4.93, 4.25],
              [2.5, 3.5, 3.5, 3.0, 3.8, 3.0, 3.0, 3.2, 3.2, 3.2, 3.3, 3.5, 3.3, 3.3, 3.0, 3.3, 3.3, 3.8, 3.3],
              [4.2, 5.5, 4.8, 6.5, 7.5, 6.5, 6.5, 6.5, 6.5, 6.0, 6.0, 8.8, 6.0, 6.0, 5.5, 5.8, 5.8, 6.0, 6.0]]
oc_alt_edg = [[3.6, 3.0, 1.8, 3.0, 3.2, 2.8, 2.6, 2.5, 2.5, 2.6, 2.7, 2.8, 2.9, 2.9, 2.8, 2.4, 2.2, 2.0, 1.8],
              [2.9, 2.3, 1.5, 2.3, 2.5, 2.1, 1.9, 1.9, 1.9, 2.0, 2.0, 2.1, 2.2, 2.2, 2.1, 1.8, 1.6, 1.4, 1.2],
              [4.0, 3.7, 2.1, 3.6, 3.8, 3.4, 3.2, 3.1, 3.1, 3.2, 3.3, 3.5, 3.5, 3.6, 3.5, 3.1, 2.9, 2.6, 2.4]]
oc_alt_dac = [[4.0, 5.3, 2.0, 5.5, 10.2, 7.5, 7.3, 7.0, 6.8, 6.5, 6.3, 6.0, 5.8, 5.5, 6.5, 5.3, 3.0, 4.5, 2.9],
              [3.2, 4.0, 1.5, 4.0, 8.0, 5.5, 5.5, 5.5, 5.0, 5.0, 5.0, 4.5, 4.5, 4.0, 4.5, 4.0, 2.5, 3.5, 2.5],
              [4.8, 8.0, 3.0, 7.0, 12.5, 10.0, 9.5, 9.0, 8.8, 8.5, 8.0, 7.5, 7.5, 7.5, 8.5, 7.5, 4.0, 5.5, 3.5]]
oc_lat_obs = [[5.2, 5.2, 5.2, 5.4, 4.8, 4.0, 3.5, 3.0, 2.8, 4.0, 4.2, 4.3, 4.3, 4.3, 4.4, 4.4, 5.0, 5.3, 4.8, 5.5, 6.5, 5.0, 4.6, 5.0, 14.0, 5.0, 5.0],
              [4.9, 4.9, 4.9, 5.1, 4.0, 3.0, 2.5, 2.2, 2.0, 2.8, 3.0, 3.0, 3.2, 3.3, 3.4, 3.5, 3.6, 4.0, 3.6, 4.0, 4.5, 3.8, 4.0, 4.3, 12.0, 4.9, 4.9],
              [5.6, 5.6, 5.6, 5.7, 5.5, 5.0, 4.8, 5.0, 3.5, 5.5, 5.5, 5.6, 6.0, 6.0, 5.8, 6.0, 6.3, 6.5, 6.3, 6.8, 7.8, 6.5, 6.2, 6.5, 16.0, 5.1, 5.1]]
oc_lat_edg = [[2.6, 2.5, 2.5, 2.4, 2.5, 4.0, 3.5, 2.3, 3.0, 2.8, 2.6, 2.8, 2.7, 2.7, 2.7, 2.6, 2.8, 2.9, 2.8, 2.7, 3.5, 3.3, 3.2, 3.2, 3.4, 2.0, 2.1],
              [2.4, 2.3, 2.3, 2.2, 2.3, 3.3, 2.8, 2.0, 2.3, 2.2, 2.1, 2.3, 2.2, 2.2, 2.2, 2.2, 2.4, 2.5, 2.4, 2.4, 3.0, 3.0, 3.0, 3.0, 3.3, 1.95, 2.05],
              [2.8, 2.7, 2.7, 2.6, 2.7, 4.5, 4.0, 3.0, 3.6, 3.4, 3.3, 3.4, 3.3, 3.3, 3.4, 3.4, 3.6, 3.8, 3.9, 3.8, 4.0, 3.7, 3.5, 3.4, 3.5, 2.05, 2.15]]
oc_lat_dac = [[2.8, 2.7, 2.6, 2.6, 2.7, 4.5, 3.2, 4.2, 3.0, 8.2, 4.5, 5.5, 5.5, 6.0, 6.5, 7.0, 8.0, 8.0, 7.8, 8.5, 8.3, 7.5, 8.0, 8.3, 9.8, 5.5, 6.1],
              [2.6, 2.5, 2.4, 2.4, 2.5, 3.5, 2.5, 3.0, 2.5, 5.0, 3.5, 3.5, 3.8, 4.0, 4.5, 5.0, 6.0, 6.0, 5.5, 6.5, 6.5, 6.0, 6.2, 6.5, 9.0, 5.3, 5.9],
              [3.0, 2.9, 2.8, 2.8, 2.9, 4.8, 4.0, 5.5, 4.0, 9.0, 6.5, 7.5, 7.5, 8.0, 9.0, 10.5, 10.0, 10.0, 9.0, 10.8, 10.0, 9.5, 9.5, 9.5, 10.0, 5.7, 6.3]]
oc_lon_obs = [[2.2, 5.0, 3.8, 3.5, 4.0, 3.0, 3.5, 3.2, 3.8, 4.0, 3.5, 4.2, 3.8, 4.5, 4.8, 4.5, 5.0, 4.2, 4.8, 4.5, 5.0, 4.5, 5.2, 4.5, 4.8, 3.3, 3.2, 3.2, 2.5, 2.5],
              [2.0, 2.5, 2.5, 2.5, 3.0, 2.5, 2.5, 2.5, 3.0, 2.8, 2.5, 3.0, 2.8, 3.0, 3.3, 3.0, 3.5, 3.0, 3.5, 3.3, 3.5, 3.3, 3.5, 3.3, 3.5, 3.0, 3.0, 3.0, 2.0, 2.3],
              [2.4, 6.5, 5.0, 4.5, 5.0, 4.0, 4.5, 4.0, 4.5, 5.0, 4.5, 5.5, 5.5, 6.0, 7.5, 6.0, 7.0, 5.8, 6.0, 5.8, 6.2, 5.5, 6.5, 6.0, 6.0, 3.6, 3.5, 3.4, 2.8, 2.7]]
oc_lon_edg = [[2.2, 3.0, 2.8, 2.5, 2.6, 2.4, 2.5, 2.6, 2.8, 3.2, 2.8, 3.2, 2.5, 2.8, 2.5, 2.6, 2.3, 2.6, 2.5, 2.6, 3.0, 2.8, 2.7, 2.8, 3.5, 3.5, 3.6, 3.8, 3.8, 4.1],
              [1.9, 2.5, 2.3, 2.1, 2.2, 2.0, 2.1, 2.1, 2.3, 2.6, 2.3, 2.6, 2.1, 2.3, 2.1, 2.2, 1.9, 2.1, 2.1, 2.1, 2.5, 2.3, 2.2, 2.3, 3.1, 3.3, 3.4, 3.6, 3.6, 3.9],
              [2.5, 3.6, 3.3, 3.0, 3.1, 2.9, 3.0, 3.1, 3.4, 3.8, 3.4, 3.8, 3.0, 3.4, 3.0, 3.1, 2.8, 3.2, 3.1, 3.2, 3.6, 3.5, 3.4, 3.5, 3.9, 3.7, 3.8, 4.0, 4.0, 4.3]]
oc_lon_dac = [[10.0, 13.0, 6.0, 9.0, 4.0, 3.0, 2.8, 3.5, 4.0, 4.0, 3.8, 3.0, 4.5, 4.5, 6.5, 5.0, 4.5, 6.0, 7.0, 5.5, 7.5, 6.0, 8.5, 6.0, 8.5, 4.0, 3.8, 3.8, 3.8, 4.3],
              [9.0, 11.0, 4.5, 6.0, 3.0, 2.3, 2.3, 2.5, 3.0, 3.0, 2.8, 2.5, 3.0, 3.0, 4.5, 3.5, 3.5, 4.5, 5.0, 4.0, 5.5, 4.5, 6.0, 4.5, 6.5, 3.8, 3.6, 3.6, 3.6, 4.0],
              [11.0, 15.0, 8.0, 10.5, 5.0, 3.8, 3.5, 4.5, 5.0, 5.0, 4.8, 4.0, 6.0, 6.0, 9.0, 7.0, 6.5, 8.0, 9.0, 7.5, 9.5, 8.0, 10.0, 8.0, 10.8, 4.2, 4.0, 4.0, 4.0, 4.5]]

# ---------------------------------------------------------------- labels
SPECIES_LABELS = ["CO / ppbv",
                  "NO<sub><i>x</i></sub> / pptv",
                  "NO<sub>3</sub><sup>−</sup>  / µg m<sup>−3</sup>",
                  "SO<sub>4</sub><sup>2−</sup>  / µg m<sup>−3</sup>",
                  "NH<sub>4</sub><sup>+</sup>  / µg m<sup>−3</sup>",
                  "BC / µg m<sup>−3</sup>",
                  "OC / µg m<sup>−3</sup>"]
VALUE_RANGES = [[50, 250], [0, 2000], [0, 0.8], [0, 4], [0, 2], [0, 1], [0, 12]]
VALUE_DTICKS = [50, 500, 0.2, 1, 0.5, 0.2, 2]
VALUE_FORMATS = ["d", "d", ".1f", "d", ".1f", ".1f", "d"]
UNIT_TEXT = ["ppbv", "pptv"] + ["<i>µ</i>g m<sup>−3</sup>"] * 5
BIAS_EDGAR = ["– 13.98", "– 955.28", "– 0.35", "– 1.15", "– 0.62", "– 0.16", "– 2.43"]
BIAS_DACCIWA = ["+ 3.94", "– 762.43", "– 0.32", "– 1.33", "– 0.68", "– 0.10", "+ 1.37"]
LEGEND_NAMES = ["Observations", "EDGAR / BOND / RETRO + GFAS", "DACCIWA + GFAS"]

ROW_DATA = [
    (co_alt_obs, co_alt_edg, co_alt_dac, co_lat_obs, co_lat_edg, co_lat_dac, co_lon_obs, co_lon_edg, co_lon_dac),
    (nox_alt_obs, nox_alt_edg, nox_alt_dac, nox_lat_obs, nox_lat_edg, nox_lat_dac, nox_lon_obs, nox_lon_edg, nox_lon_dac),
    (no3_alt_obs, no3_alt_edg, no3_alt_dac, no3_lat_obs, no3_lat_edg, no3_lat_dac, no3_lon_obs, no3_lon_edg, no3_lon_dac),
    (so4_alt_obs, so4_alt_edg, so4_alt_dac, so4_lat_obs, so4_lat_edg, so4_lat_dac, so4_lon_obs, so4_lon_edg, so4_lon_dac),
    (nh4_alt_obs, nh4_alt_edg, nh4_alt_dac, nh4_lat_obs, nh4_lat_edg, nh4_lat_dac, nh4_lon_obs, nh4_lon_edg, nh4_lon_dac),
    (bc_alt_obs, bc_alt_edg, bc_alt_dac, bc_lat_obs, bc_lat_edg, bc_lat_dac, bc_lon_obs, bc_lon_edg, bc_lon_dac),
    (oc_alt_obs, oc_alt_edg, oc_alt_dac, oc_lat_obs, oc_lat_edg, oc_lat_dac, oc_lon_obs, oc_lon_edg, oc_lon_dac),
]

# ---------------------------------------------------------------- page geometry (pixels)
W, H = 1063, 1578
ROW_Y = [(15, 172), (233, 388), (454, 610), (674, 829), (894, 1048), (1114, 1269), (1334, 1491)]
ROW_X = [
    [(67, 223), (315, 472), (565, 723)],
    [(62, 219), (314, 471), (566, 723)],
    [(70, 226), (315, 472), (567, 724)],
    [(76, 232), (318, 474), (567, 725)],
    [(68, 224), (318, 473), (567, 725)],
    [(68, 224), (318, 473), (567, 725)],
    [(72, 228), (318, 473), (567, 725)],
]

LINE_COL = ["#5b5b5b", "#c0504d", "#5f9b9b"]
FILL_COL = ["rgba(100,100,100,0.52)", "rgba(192,80,77,0.42)", "rgba(95,155,155,0.42)"]
PATCH_COL = ["#6a6a6a", "#b75c5a", "#74a09e"]
BIAS_COL = ["#b95b5a", "#74a2a1"]
TICK_FONT = dict(family="DejaVu Sans", size=12.5, color="#262626")
TITLE_FONT = dict(family="DejaVu Sans", size=15.4, color="#1a1a1a")
SPINE = "#c4c4c4"


def px_x(p):
    return p / W


def px_y(p):
    return 1 - p / H


def segments(coord, series, max_gap):
    """Split a series into runs of valid points, breaking at gaps in coverage."""
    mean, lo, hi = series
    assert len(mean) == len(lo) == len(hi) == len(coord)
    runs, cur, prev = [], [], None
    for i, c in enumerate(coord):
        if mean[i] is None or (prev is not None and c - prev > max_gap):
            if cur:
                runs.append(cur)
            cur = []
        if mean[i] is not None:
            cur.append(i)
        prev = c
    if cur:
        runs.append(cur)
    return runs


fig = go.Figure()


def add_panel(ax_id, coord, triple, vertical, max_gap):
    sfx = "" if ax_id == 1 else str(ax_id)
    xa, ya = "x" + sfx, "y" + sfx
    # shaded spread, one polygon per run
    for k, series in enumerate(triple):
        mean, lo, hi = series
        for run in segments(coord, series, max_gap):
            c = [coord[i] for i in run]
            band_lo = [lo[i] for i in run]
            band_hi = [hi[i] for i in run]
            vals = band_lo + band_hi[::-1]
            pos = c + c[::-1]
            xs, ys = (vals, pos) if vertical else (pos, vals)
            fig.add_trace(go.Scatter(x=xs, y=ys, mode="lines", fill="toself",
                                     fillcolor=FILL_COL[k], line=dict(width=0),
                                     hoverinfo="skip", showlegend=False,
                                     xaxis=xa, yaxis=ya))
    # mean lines
    for k, series in enumerate(triple):
        mean = series[0]
        lx, ly = [], []
        for run in segments(coord, series, max_gap):
            c = [coord[i] for i in run]
            m = [mean[i] for i in run]
            if vertical:
                lx += m + [None]
                ly += c + [None]
            else:
                lx += c + [None]
                ly += m + [None]
        fig.add_trace(go.Scatter(x=lx, y=ly, mode="lines",
                                 line=dict(color=LINE_COL[k], width=1.7),
                                 hoverinfo="skip", showlegend=False,
                                 xaxis=xa, yaxis=ya))


def axis_style(domain, rng, dtick, tick0, fmt, title, anchor, label_shift):
    return dict(domain=domain, range=rng, dtick=dtick, tick0=tick0,
                tickformat=fmt, anchor=anchor, showgrid=False, zeroline=False,
                automargin=False, showline=True, linecolor=SPINE, linewidth=1,
                mirror=True, ticks="", ticklabelstandoff=label_shift,
                tickfont=TICK_FONT, title=dict(text=title, font=TITLE_FONT, standoff=3))


layout = {}
ax_id = 0
for r in range(7):
    y0, y1 = ROW_Y[r]
    ydom = [px_y(y1), px_y(y0)]
    data = ROW_DATA[r]
    vr, vd, vf = VALUE_RANGES[r], VALUE_DTICKS[r], VALUE_FORMATS[r]
    for c in range(3):
        ax_id += 1
        x0, x1 = ROW_X[r][c]
        xdom = [px_x(x0), px_x(x1)]
        sfx = "" if ax_id == 1 else str(ax_id)
        if c == 0:
            xcfg = axis_style(xdom, vr, vd, vr[0], vf, SPECIES_LABELS[r], "y" + sfx, -4)
            ycfg = axis_style(ydom, [0, 1000], 250, 0, "d", "Altitude / m", "x" + sfx, -2)
            add_panel(ax_id, ALT, data[0:3], True, 1e9)
        elif c == 1:
            xcfg = axis_style(xdom, [3.1, 12], 2, 4, "d", "Latitude / degrees north", "y" + sfx, -4)
            ycfg = axis_style(ydom, vr, vd, vr[0], vf, SPECIES_LABELS[r], "x" + sfx, -2)
            add_panel(ax_id, LAT, data[3:6], False, 0.5)
        else:
            xcfg = axis_style(xdom, [-5, 5], 2, -4, "d", "Longitude / degrees east", "y" + sfx, -4)
            ycfg = axis_style(ydom, vr, vd, vr[0], vf, SPECIES_LABELS[r], "x" + sfx, -2)
            add_panel(ax_id, LON, data[6:9], False, 0.5)
        layout["xaxis" + sfx] = xcfg
        layout["yaxis" + sfx] = ycfg

# model bias statements beside each row
annotations = []
SANS = "Liberation Sans, Arial, sans-serif"
for r in range(7):
    top = ROW_Y[r][0]
    for text, col, dy in ((BIAS_EDGAR[r], BIAS_COL[0], 67), (BIAS_DACCIWA[r], BIAS_COL[1], 119)):
        annotations.append(dict(
            x=px_x(777), y=px_y(top + dy), xref="paper", yref="paper",
            xanchor="left", yanchor="middle", showarrow=False,
            text="<b>Model Bias = %s %s</b>" % (text, UNIT_TEXT[r]),
            font=dict(family=SANS, size=21.5, color=col)))

# legend along the bottom edge
shapes = []
PATCH_X = [(111, 153), (313, 353), (711, 753)]
TEXT_X = [168, 368, 767]
for k in range(3):
    shapes.append(dict(type="rect", xref="paper", yref="paper",
                       x0=px_x(PATCH_X[k][0]), x1=px_x(PATCH_X[k][1]),
                       y0=px_y(1580), y1=px_y(1558),
                       fillcolor=PATCH_COL[k], line=dict(width=0)))
    annotations.append(dict(x=px_x(TEXT_X[k]), y=px_y(1567), xref="paper", yref="paper",
                            xanchor="left", yanchor="middle", showarrow=False,
                            text=LEGEND_NAMES[k],
                            font=dict(family=SANS, size=21.3, color="#111111")))

fig.update_layout(width=W, height=H, autosize=False,
                  margin=dict(l=0, r=0, t=0, b=0, pad=0),
                  paper_bgcolor="white", plot_bgcolor="white",
                  showlegend=False, annotations=annotations, shapes=shapes,
                  **layout)

fig.write_html("out.html")
